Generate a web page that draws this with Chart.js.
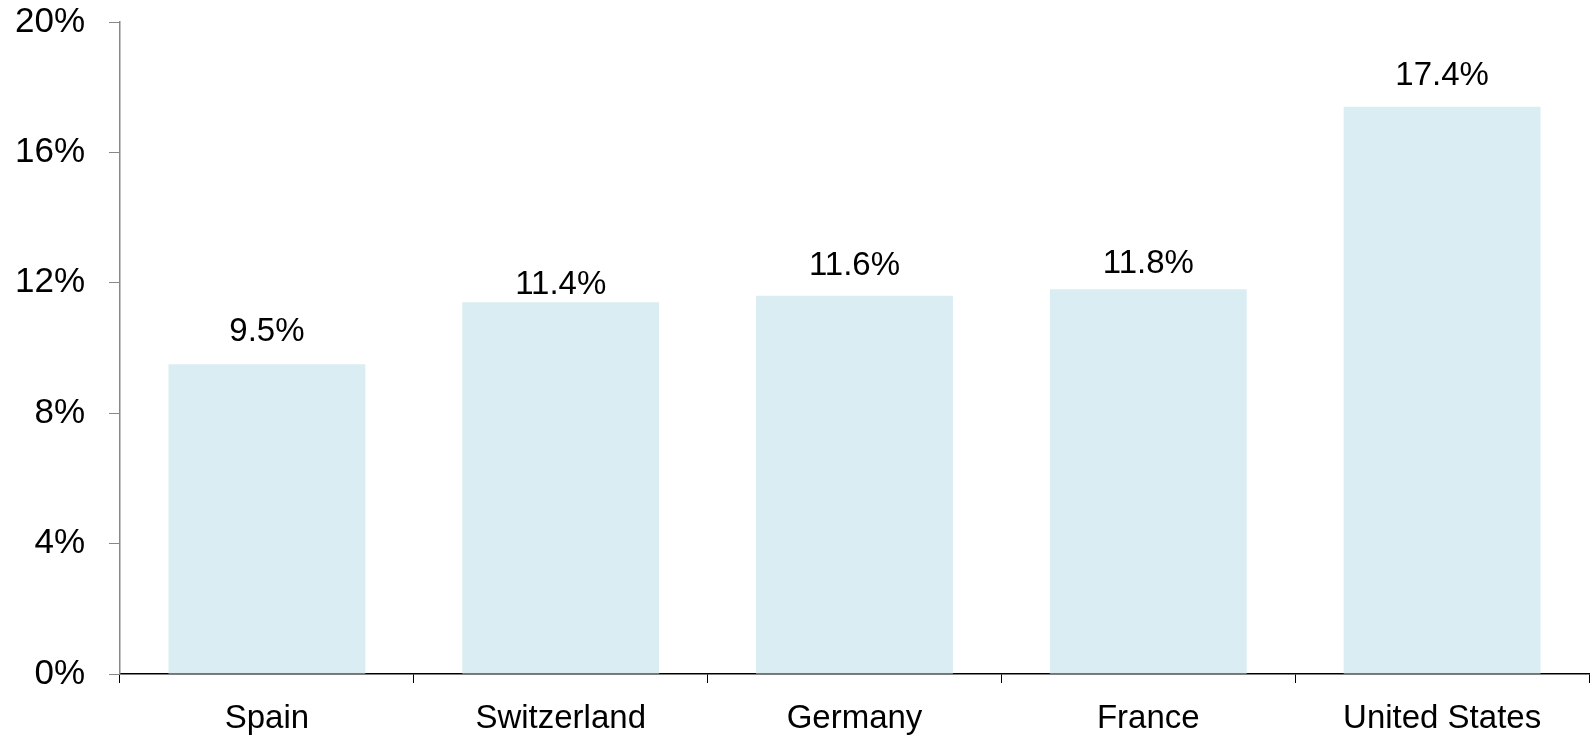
<!DOCTYPE html>
<html>
<head>
<meta charset="utf-8">
<script src="https://cdn.jsdelivr.net/npm/chart.js@4/dist/chart.umd.min.js"></script>
<style>
  html, body { margin: 0; padding: 0; background: #fff; }
  #wrap { width: 1591px; height: 735px; }
</style>
</head>
<body>
<div id="wrap"><canvas id="chart" width="1591" height="735"></canvas></div>
<script>
// chart data
const countries = ['Spain', 'Switzerland', 'Germany', 'France', 'United States'];
const shares = [9.5, 11.4, 11.6, 11.8, 17.4];
const yTicks = [0, 4, 8, 12, 16, 20];

// gap (px) between each value label and its bar, as placed in the original
const labelGaps = [23, 8, 21, 16, 22];

const fontFamily = '"Liberation Sans", Arial, sans-serif';
const fontSize = 33;

// draws the value above each bar
const barLabels = {
    id: 'barLabels',
    afterDatasetsDraw(chart) {
        const ctx = chart.ctx;
        const meta = chart.getDatasetMeta(0);
        ctx.save();
        ctx.font = fontSize + 'px ' + fontFamily;
        ctx.fillStyle = '#000';
        ctx.textAlign = 'center';
        ctx.textBaseline = 'alphabetic';
        meta.data.forEach((bar, i) => {
            ctx.fillText(shares[i].toFixed(1) + '%', bar.x, bar.y - labelGaps[i]);
        });
        ctx.restore();
    }
};

new Chart(document.getElementById('chart'), {
    type: 'bar',
    data: {
        labels: countries,
        datasets: [{
            data: shares,
            backgroundColor: '#daedf3',
            borderWidth: 0,
            categoryPercentage: 1,
            barPercentage: 0.67
        }]
    },
    options: {
        responsive: false,
        animation: false,
        layout: { padding: { top: 22, right: 2, bottom: 0, left: 0 } },
        plugins: {
            legend: { display: false },
            tooltip: { enabled: false }
        },
        scales: {
            x: {
                grid: {
                    display: true,
                    drawOnChartArea: false,
                    drawTicks: true,
                    tickLength: 9,
                    color: '#000',
                    offset: true
                },
                border: { color: '#000', width: 1.5 },
                ticks: {
                    color: '#000',
                    font: { family: fontFamily, size: fontSize },
                    padding: 16,
                    maxRotation: 0
                },
                afterFit(scale) { scale.height = 61; }
            },
            y: {
                min: 0,
                max: 20,
                afterBuildTicks(scale) {
                    scale.ticks = yTicks.map(v => ({ value: v }));
                },
                grid: {
                    display: true,
                    drawOnChartArea: false,
                    drawTicks: true,
                    tickLength: 11,
                    color: '#888'
                },
                border: { color: '#888', width: 1.5 },
                ticks: {
                    color: '#000',
                    font: { family: fontFamily, size: 35 },
                    padding: 24,
                    callback: v => v + '%'
                },
                afterFit(scale) {
                    scale.width = 120;
                    // top label may stick out above the plot, like the original
                    scale.paddingTop = 0;
                    scale.paddingBottom = 0;
                }
            }
        }
    },
    plugins: [barLabels]
});
</script>
</body>
</html>
